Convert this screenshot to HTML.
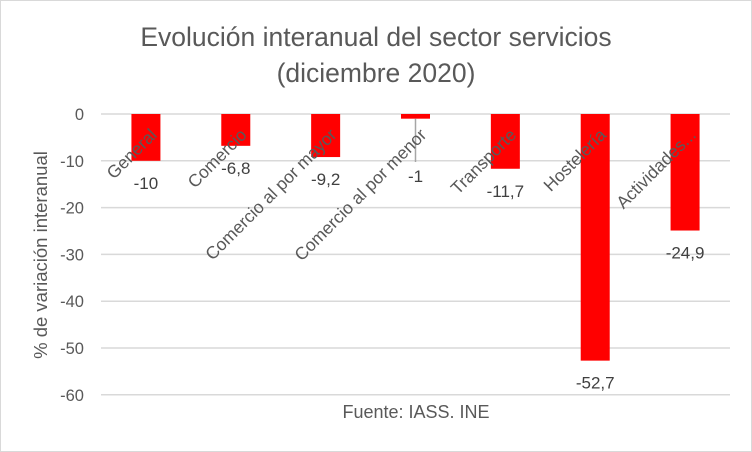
<!DOCTYPE html>
<html><head><meta charset="utf-8"><style>
body{margin:0;background:#fff}
svg{display:block;font-family:"Liberation Sans",sans-serif}
</style></head><body>
<svg width="752" height="452">
<rect x="0.5" y="0.5" width="751" height="451" fill="#fff" stroke="#d9d9d9"/>
<text x="376" y="46" text-anchor="middle" font-size="26.5" fill="#595959">Evolución interanual del sector servicios</text>
<text x="376" y="82" text-anchor="middle" font-size="26.5" fill="#595959">(diciembre 2020)</text>
<text transform="translate(47,255) rotate(-90)" text-anchor="middle" font-size="18.5" fill="#595959">% de variación interanual</text>
<text x="416" y="418" text-anchor="middle" font-size="18" fill="#595959">Fuente: IASS. INE</text>
<g id="grid"></g><g id="bars"></g><g id="labels"></g>
</svg>
<script>
const categories=["General","Comercio","Comercio al por mayor","Comercio al por menor","Transporte","Hostelería","Actividades..."];
const values=[-10,-6.8,-9.2,-1,-11.7,-52.7,-24.9];
const valueLabels=["-10","-6,8","-9,2","-1","-11,7","-52,7","-24,9"];
const yTicks=[0,-10,-20,-30,-40,-50,-60];
const NS="http://www.w3.org/2000/svg";
const x0=101,x1=730,y0=114,pxPerUnit=4.68;
const y=v=>y0-v*pxPerUnit;
const band=(x1-x0)/categories.length;
const cx=i=>x0+band*(i+0.5);
function mk(t,a,p){const e=document.createElementNS(NS,t);for(const k in a)e.setAttribute(k,a[k]);document.getElementById(p).appendChild(e);return e;}
yTicks.forEach((t,i)=>{
 const l=mk('line',{x1:x0,x2:x1,y1:y(t),y2:y(t),stroke:'#d9d9d9','stroke-width':1.5},'grid');
 
 
 const tx=mk('text',{x:84,y:y(t)+6,'text-anchor':'end','font-size':16.5,fill:'#595959'},'grid');
 tx.textContent=t;
 
 
});
values.forEach((v,i)=>{
 const bw=29;
 const r=mk('rect',{x:cx(i)-bw/2,y:y0,width:bw,height:y(v)-y0,fill:'#ff0000'},'bars');
 
 
 let ly=y(v)+28;
 if(Math.abs(v)<3){ly=y0+68;
  const ln=mk('line',{x1:cx(i),x2:cx(i),y1:y(v),y2:ly-20,stroke:'#a6a6a6','stroke-width':1.5},'labels');
  
  }
 const vl=mk('text',{x:cx(i),y:ly,'text-anchor':'middle','font-size':17,fill:'#404040'},'labels');
 vl.textContent=valueLabels[i];
 
 
 const cl=mk('text',{transform:`translate(${cx(i)+12},${y0+22}) rotate(-45)`,'text-anchor':'end','font-size':17.5,fill:'#595959'},'labels');
 cl.textContent=categories[i];
 
 
});
</script>
</body></html>
